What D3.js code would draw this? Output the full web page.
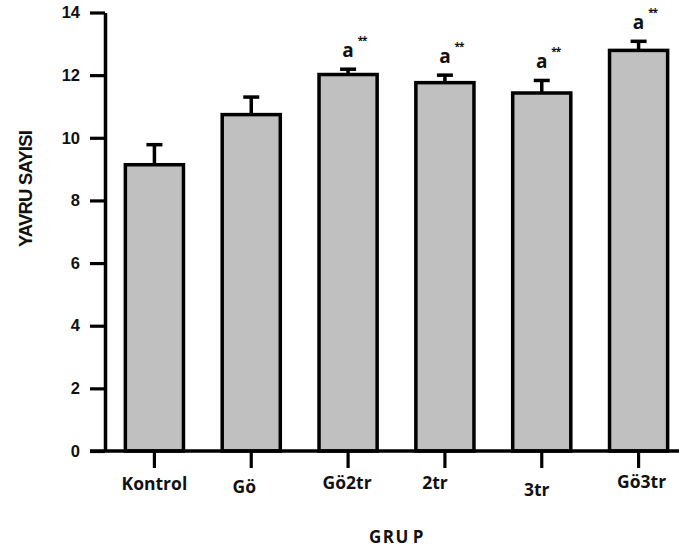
<!DOCTYPE html>
<html>
<head>
<meta charset="utf-8">
<script src="https://cdn.jsdelivr.net/npm/d3@7"></script>
<style>
  html, body { margin: 0; padding: 0; background: #fff; }
  svg { display: block; }
</style>
</head>
<body>
<svg id="chart" width="679" height="551"></svg>
<script>
// Group names, mean litter size and upper error (SEM) per group
const groups = ["Kontrol", "Gö", "Gö2tr", "2tr", "3tr", "Gö3tr"];
const means = [9.14, 10.74, 12.02, 11.76, 11.43, 12.79];
const errors = [0.64, 0.56, 0.17, 0.24, 0.40, 0.29];
// Significance marks above bars ("" = none)
const marks = ["", "", "a", "a", "a", "a"];
const stars = ["", "", "**", "**", "**", "**"];
const yTicks = [0, 2, 4, 6, 8, 10, 12, 14];

// Small per-label nudges [dx, dy] for the group names
const labelNudge = [[0, 0], [-7, 3], [-1, -1], [-10, -1], [-5, 6], [3, -2]];

const svg = d3.select("#chart");
const ink = "#111";

const y = d3.scaleLinear().domain([0, 14]).range([451, 12.5]);
const x = d3.scaleBand().domain(groups).range([106, 687])
  .paddingInner(0.4).paddingOuter(0.2);

// Bars
svg.append("g").selectAll("rect").data(groups).join("rect")
  .attr("x", d => x(d))
  .attr("y", (d, i) => y(means[i]))
  .attr("width", x.bandwidth())
  .attr("height", (d, i) => y(0) - y(means[i]))
  .attr("fill", "#c0c0c0")
  .attr("stroke", "#000")
  .attr("stroke-width", 3.5);

// Upper error whiskers with caps
const eb = svg.append("g").attr("stroke", "#000").attr("stroke-width", 3.5);
groups.forEach((g, i) => {
  const cx = x(g) + x.bandwidth() / 2;
  eb.append("line").attr("x1", cx).attr("x2", cx)
    .attr("y1", y(means[i])).attr("y2", y(means[i] + errors[i]));
  eb.append("line").attr("x1", cx - 8).attr("x2", cx + 8)
    .attr("y1", y(means[i] + errors[i])).attr("y2", y(means[i] + errors[i]));
});

// Significance letters with superscript stars
const ann = svg.append("g").attr("fill", ink)
  .attr("font-family", "'Open Sans', sans-serif").attr("font-weight", 700);
groups.forEach((g, i) => {
  if (!marks[i]) return;
  const cx = x(g) + x.bandwidth() / 2;
  const top = y(means[i] + errors[i]);
  ann.append("text").attr("x", cx).attr("y", top - 12)
    .attr("text-anchor", "middle").attr("font-size", 19).text(marks[i]);
  ann.append("text").attr("x", cx + 14).attr("y", top - 25)
    .attr("text-anchor", "middle").attr("font-size", 10)
    .attr("letter-spacing", -1).text(stars[i]);
});

// Y axis
const yAxis = svg.append("g").attr("transform", "translate(105,0)")
  .call(d3.axisLeft(y).tickValues(yTicks).tickSize(15).tickSizeOuter(0).tickPadding(10));
yAxis.select(".domain").attr("stroke", "#000").attr("stroke-width", 3.5);
yAxis.selectAll(".tick line").attr("stroke", "#000").attr("stroke-width", 3.2);
yAxis.selectAll(".tick text")
  .attr("fill", ink)
  .attr("font-family", "'Liberation Sans', Arial, sans-serif")
  .attr("font-weight", 700).attr("font-size", 16.5);

// X axis baseline and group ticks
svg.append("line").attr("x1", 90).attr("x2", 679)
  .attr("y1", y(0)).attr("y2", y(0))
  .attr("stroke", "#000").attr("stroke-width", 3.5);
const xg = svg.append("g");
groups.forEach((g, i) => {
  const cx = x(g) + x.bandwidth() / 2;
  xg.append("line").attr("x1", cx).attr("x2", cx)
    .attr("y1", y(0)).attr("y2", y(0) + 17)
    .attr("stroke", "#000").attr("stroke-width", 3.2);
  xg.append("text")
    .attr("x", cx + labelNudge[i][0]).attr("y", y(0) + 39 + labelNudge[i][1])
    .attr("text-anchor", "middle")
    .attr("font-family", "'Open Sans', sans-serif")
    .attr("font-weight", 700).attr("font-size", 17.5)
    .attr("fill", ink).text(g);
});

// Axis titles
svg.append("text")
  .attr("transform", "translate(32,189) rotate(-90)")
  .attr("text-anchor", "middle")
  .attr("font-family", "'Liberation Sans', Arial, sans-serif")
  .attr("font-weight", 700).attr("font-size", 18.5)
  .attr("letter-spacing", -0.8)
  .attr("fill", ink).text("YAVRU SAYISI");

const xt = svg.append("text")
  .attr("x", 397).attr("y", 543)
  .attr("text-anchor", "middle")
  .attr("font-family", "'Open Sans', sans-serif")
  .attr("font-weight", 700).attr("font-size", 17)
  .attr("letter-spacing", 1.5)
  .attr("fill", ink);
xt.append("tspan").text("GRU");
xt.append("tspan").attr("dx", 3).text("P");
</script>
</body>
</html>
